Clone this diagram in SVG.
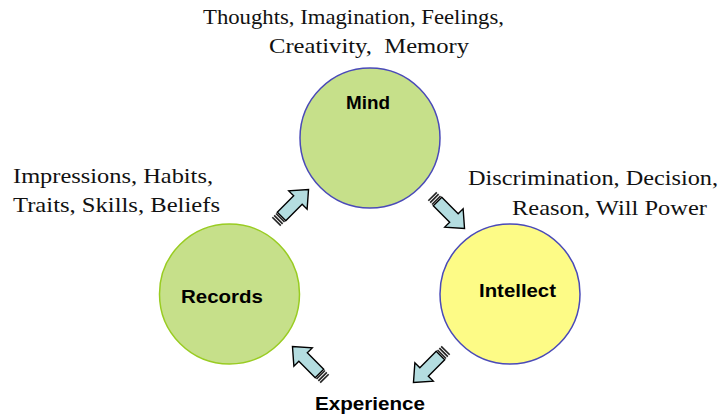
<svg xmlns="http://www.w3.org/2000/svg" width="725" height="419" viewBox="0 0 725 419">
  <style>
    .note { font-family: "Liberation Serif", "Times New Roman", serif; font-size: 21px; fill: #111; white-space: pre; }
    .label { font-family: "Liberation Sans", Arial, sans-serif; font-size: 19px; font-weight: bold; fill: #000; }
    .green { fill: #c6e08a; }
    .yellow { fill: #fdfb86; }
    .blue-edge { stroke: #4a4ab8; stroke-width: 1.5; }
    .green-edge { stroke: #99cc22; stroke-width: 1.5; }
    .arrow-body { fill: #b4dde0; stroke: #000; stroke-width: 1.4; stroke-linejoin: miter; }
    .stripe { fill: #222; }
  </style>
  <defs>
    <!-- striped block arrow, tail at origin, pointing along +x -->
    <g id="striped-arrow">
      <rect class="stripe" x="0" y="-6" width="1.6" height="12"/>
      <rect class="stripe" x="2.6" y="-6" width="1.6" height="12"/>
      <rect class="stripe" x="5.2" y="-6" width="1.6" height="12"/>
      <path class="arrow-body" d="M7.8,-6 H31 V-13 L46,0 L31,13 V6 H7.8 Z"/>
    </g>
  </defs>

  <!-- annotations -->
  <text class="note" x="203" y="24" textLength="301" lengthAdjust="spacingAndGlyphs">Thoughts, Imagination, Feelings,</text>
  <text class="note" x="269" y="53" textLength="200" lengthAdjust="spacingAndGlyphs">Creativity,  Memory</text>
  <text class="note" x="13" y="183" textLength="200" lengthAdjust="spacingAndGlyphs">Impressions, Habits,</text>
  <text class="note" x="13" y="212" textLength="207" lengthAdjust="spacingAndGlyphs">Traits, Skills, Beliefs</text>
  <text class="note" x="468" y="185" textLength="250" lengthAdjust="spacingAndGlyphs">Discrimination, Decision,</text>
  <text class="note" x="512" y="215" textLength="195" lengthAdjust="spacingAndGlyphs">Reason, Will Power</text>

  <g id="mind">
    <circle class="green blue-edge" cx="370" cy="138" r="70"/>
    <text class="label" x="346" y="109" textLength="44" lengthAdjust="spacingAndGlyphs">Mind</text>
  </g>
  <g id="records">
    <circle class="green green-edge" cx="229.5" cy="294" r="70"/>
    <text class="label" x="181" y="303" textLength="82" lengthAdjust="spacingAndGlyphs">Records</text>
  </g>
  <g id="intellect">
    <circle class="yellow blue-edge" cx="510" cy="294" r="70"/>
    <text class="label" x="479" y="297" textLength="77" lengthAdjust="spacingAndGlyphs">Intellect</text>
  </g>
  <g id="experience">
    <text class="label" x="315" y="410" textLength="110" lengthAdjust="spacingAndGlyphs">Experience</text>
  </g>

  <g id="connectors">
    <use href="#striped-arrow" transform="translate(276,222) rotate(-45)"/>
    <use href="#striped-arrow" transform="translate(432,196) rotate(45)"/>
    <use href="#striped-arrow" transform="translate(446,350) rotate(135)"/>
    <use href="#striped-arrow" transform="translate(325,379) rotate(-135)"/>
  </g>
</svg>
